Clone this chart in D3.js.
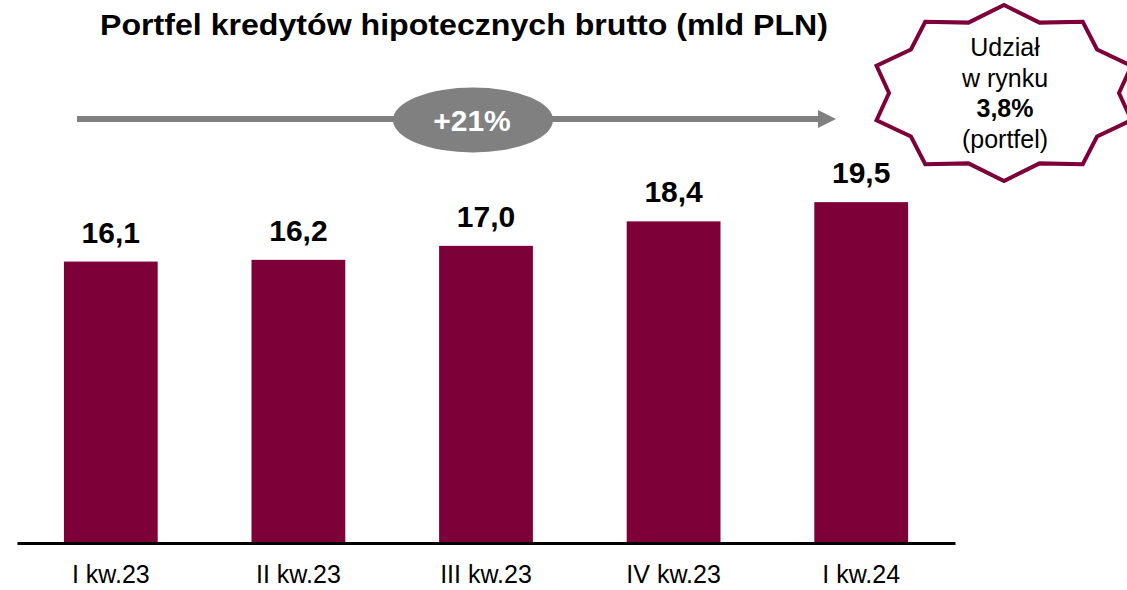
<!DOCTYPE html>
<html>
<head>
<meta charset="utf-8">
<script src="https://d3js.org/d3.v7.min.js"></script>
<style>
    body { margin: 0; background: #fff; }
    text { font-family: Arial, "Liberation Sans", sans-serif; }
</style>
</head>
<body>
<svg id="chart" width="1127" height="590"></svg>
<script>
    // data
    var quarters = ["I kw.23", "II kw.23", "III kw.23", "IV kw.23", "I kw.24"];
    var values = [16.1, 16.2, 17.0, 18.4, 19.5];
    var growthLabel = "+21%";
    var shareLines = ["Udział", "w rynku", "3,8%", "(portfel)"];

    var barColor = "#7e0039";
    var grey = "#808080";

    var svg = d3.select("#chart");

    var x = d3.scaleBand()
        .domain(quarters)
        .range([17, 955])
        .paddingInner(0.5)
        .paddingOuter(0.25);

    var y = d3.scaleLinear()
        .domain([0, 20])
        .range([543, 543 - 20 * 17.48]);

    // title
    svg.append("text")
        .attr("x", 464)
        .attr("y", 35)
        .attr("text-anchor", "middle")
        .attr("textLength", 728)
        .attr("lengthAdjust", "spacingAndGlyphs")
        .style("font-size", "29px")
        .style("font-weight", "bold")
        .text("Portfel kredytów hipotecznych brutto (mld PLN)");

    // bars
    svg.selectAll(".bar")
        .data(values)
        .enter()
        .append("rect")
        .attr("class", "bar")
        .attr("x", function (d, i) { return x(quarters[i]); })
        .attr("y", function (d) { return y(d); })
        .attr("width", x.bandwidth())
        .attr("height", function (d) { return y(0) - y(d); })
        .style("fill", barColor);

    // value labels
    svg.selectAll(".val")
        .data(values)
        .enter()
        .append("text")
        .attr("class", "val")
        .attr("x", function (d, i) { return x(quarters[i]) + x.bandwidth() / 2; })
        .attr("y", function (d) { return y(d) - 19; })
        .attr("text-anchor", "middle")
        .style("font-size", "30px")
        .style("font-weight", "bold")
        .text(function (d) { return d.toFixed(1).replace(".", ","); });

    // x axis
    var xAxis = svg.append("g")
        .attr("transform", "translate(0," + y(0) + ")")
        .call(d3.axisBottom(x).tickSize(0).tickPadding(0));
    xAxis.select(".domain")
        .attr("stroke", "#000")
        .attr("stroke-width", 3);
    xAxis.selectAll(".tick text")
        .attr("y", 40)
        .attr("dy", 0)
        .style("font-size", "25px")
        .style("font-family", "Arial, 'Liberation Sans', sans-serif")
        .attr("fill", "#000");

    // growth arrow
    svg.append("defs").append("marker")
        .attr("id", "head")
        .attr("viewBox", "0 0 10 10")
        .attr("refX", 0)
        .attr("refY", 5)
        .attr("markerWidth", 3)
        .attr("markerHeight", 3)
        .attr("orient", "auto")
        .append("path")
        .attr("d", "M0,0 L10,5 L0,10 Z")
        .attr("fill", grey);

    svg.append("line")
        .attr("x1", 77)
        .attr("x2", 818)
        .attr("y1", 119)
        .attr("y2", 119)
        .attr("stroke", grey)
        .attr("stroke-width", 6)
        .attr("marker-end", "url(#head)");

    svg.append("ellipse")
        .attr("cx", 473)
        .attr("cy", 120)
        .attr("rx", 80)
        .attr("ry", 32.5)
        .attr("fill", grey);

    svg.append("text")
        .attr("x", 472)
        .attr("y", 131)
        .attr("text-anchor", "middle")
        .style("font-size", "30px")
        .style("font-weight", "bold")
        .attr("fill", "#fff")
        .text(growthLabel);

    // 10-point star badge
    var cx = 1004, cy = 93;
    var pts = [];
    for (var k = 0; k < 20; k++) {
        var a = Math.PI / 2 - k * Math.PI / 10;
        var outer = k % 2 === 0;
        var rx = outer ? 134 : 115, ry = outer ? 88 : 74;
        pts.push([cx + rx * Math.cos(a), cy - ry * Math.sin(a)]);
    }
    svg.append("polygon")
        .attr("points", pts.map(function (p) { return p.join(","); }).join(" "))
        .attr("fill", "#fff")
        .attr("stroke", barColor)
        .attr("stroke-width", 4)
        .attr("stroke-linejoin", "miter");

    svg.selectAll(".share")
        .data(shareLines)
        .enter()
        .append("text")
        .attr("class", "share")
        .attr("x", 1005)
        .attr("y", function (d, i) { return 56 + i * 30.7; })
        .attr("text-anchor", "middle")
        .style("font-size", "25px")
        .style("font-weight", function (d, i) { return i === 2 ? "bold" : "normal"; })
        .text(function (d) { return d; });
</script>
</body>
</html>
